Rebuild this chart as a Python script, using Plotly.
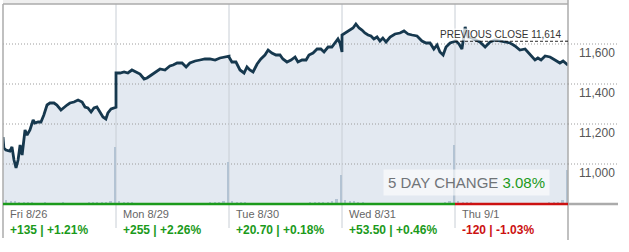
import plotly.graph_objects as go

# ---------------- data ----------------
day_labels = ["Fri 8/26", "Mon 8/29", "Tue 8/30", "Wed 8/31", "Thu 9/1"]
day_changes = ["+135 | +1.21%", "+255 | +2.26%", "+20.70 | +0.18%", "+53.50 | +0.46%", "-120 | -1.03%"]
day_up = [True, True, True, True, False]

session_minutes = 390  # 9:30 -> 16:00

minutes_fri = [0, 3, 10, 24, 31, 38, 45, 52, 59, 66, 76, 83, 93, 104, 110, 121, 131, 141, 152, 162,
               176, 186, 200, 207, 221, 231, 245, 259, 273, 283, 293, 304, 314, 324, 335, 345, 355, 362, 373, 390]
values_fri = [11135, 11080, 11070, 11065, 11085, 11020, 10980, 11020, 11095, 11045, 11170, 11145, 11170, 11220,
              11205, 11210, 11210, 11245, 11295, 11305, 11305, 11295, 11270, 11280, 11295, 11305, 11310, 11320,
              11310, 11285, 11280, 11260, 11280, 11285, 11260, 11235, 11225, 11255, 11275, 11284]

minutes_mon = [0, 14, 28, 41, 55, 69, 83, 97, 107, 117, 135, 152, 169, 186, 197, 211, 228, 242, 255, 273,
               290, 307, 324, 342, 359, 376, 390]
values_mon = [11455, 11455, 11460, 11455, 11470, 11460, 11450, 11425, 11430, 11440, 11460, 11475, 11470, 11490,
              11495, 11505, 11505, 11485, 11505, 11515, 11520, 11525, 11525, 11520, 11530, 11535, 11539]

minutes_tue = [0, 10, 24, 38, 52, 62, 72, 83, 97, 110, 124, 135, 148, 162, 176, 186, 200, 214, 228, 238,
               252, 266, 276, 290, 304, 317, 328, 342, 355, 366, 376, 383, 390]
values_tue = [11535, 11510, 11510, 11470, 11455, 11485, 11470, 11460, 11500, 11525, 11545, 11570, 11555, 11545,
              11545, 11525, 11510, 11520, 11535, 11510, 11520, 11520, 11545, 11555, 11575, 11575, 11560, 11585,
              11585, 11605, 11625, 11605, 11560]

minutes_wed = [0, 17, 28, 38, 48, 59, 69, 79, 90, 100, 110, 121, 131, 141, 152, 166, 183, 200, 214, 228,
               242, 259, 276, 290, 304, 317, 328, 338, 349, 359, 373, 390]
values_wed = [11645, 11660, 11670, 11680, 11700, 11680, 11670, 11655, 11645, 11640, 11625, 11635, 11615, 11630,
              11610, 11635, 11650, 11655, 11665, 11650, 11645, 11640, 11615, 11605, 11605, 11575, 11595, 11560,
              11545, 11585, 11605, 11614]

minutes_thu = [0, 14, 24, 35, 45, 59, 72, 86, 104, 121, 138, 155, 173, 190, 207, 224, 242, 259, 276, 286,
               297, 311, 328, 345, 362, 373, 390]
values_thu = [11620, 11600, 11575, 11685, 11635, 11630, 11620, 11610, 11585, 11610, 11620, 11615, 11610, 11605,
              11590, 11570, 11575, 11545, 11520, 11530, 11520, 11540, 11535, 11520, 11505, 11515, 11494]

# volume per 15-minute bin (millions of shares)
volume_fri = [8, 6, 6, 4, 4, 4, 4, 2, 2, 4, 2, 2, 2, 4, 2, 2, 2, 2, 2, 4, 4, 4, 4, 4, 6, 114]
volume_mon = [6, 4, 4, 4, 2, 2, 2, 2, 2, 2, 2, 2, 2, 2, 2, 2, 2, 2, 2, 2, 2, 4, 4, 4, 6, 84]
volume_tue = [6, 4, 4, 4, 2, 2, 2, 2, 2, 2, 2, 2, 2, 2, 2, 2, 2, 2, 4, 4, 4, 4, 4, 6, 10, 58]
volume_wed = [8, 6, 6, 4, 4, 2, 2, 2, 2, 2, 2, 2, 2, 2, 2, 2, 2, 2, 2, 2, 2, 2, 2, 4, 6, 118]
volume_thu = [6, 4, 4, 4, 2, 2, 2, 2, 2, 2, 2, 2, 2, 2, 2, 2, 2, 2, 2, 2, 2, 4, 4, 4, 8, 68]

prev_close = 11614
five_day_change = "3.08%"
y_ticks = [11000, 11200, 11400, 11600]
y_range = [10800, 11800]
volume_range = [0, 400]

# ---------------- build ----------------
all_minutes = [minutes_fri, minutes_mon, minutes_tue, minutes_wed, minutes_thu]
all_values = [values_fri, values_mon, values_tue, values_wed, values_thu]
all_volume = [volume_fri, volume_mon, volume_tue, volume_wed, volume_thu]
n_days = len(day_labels)
x_max = n_days * session_minutes

px, py = [], []
for d, (mins, vals) in enumerate(zip(all_minutes, all_values)):
    px += [d * session_minutes + m for m in mins]
    py += vals

vx, vy = [], []
for d, vols in enumerate(all_volume):
    for k, v in enumerate(vols):
        vx.append(d * session_minutes + 15 * (k + 1) - 4)
        vy.append(v)

FONT = "Arial, 'Liberation Sans', sans-serif"
GREEN = "#1b9a1b"
RED = "#cc1111"
LINE = "#16384e"
FILL = "#e3e9f1"
SEP = "#c8ced5"
BORDER = "#ababab"

fig = go.Figure()

# area fill
fig.add_trace(go.Scatter(x=px, y=py, mode="lines", line=dict(width=0, color=FILL),
                         fill="tozeroy", fillcolor=FILL, hoverinfo="skip"))
# gridlines (above the fill, below the line)
for t in y_ticks:
    fig.add_trace(go.Scatter(x=[0, x_max], y=[t, t], mode="lines",
                             line=dict(color="#9c9c9c", width=1, dash="1px,2px"), hoverinfo="skip"))
# day separators
for d in range(1, n_days):
    fig.add_trace(go.Scatter(x=[d * session_minutes] * 2, y=y_range, mode="lines",
                             line=dict(color=SEP, width=1), hoverinfo="skip"))
# price line
fig.add_trace(go.Scatter(x=px, y=py, mode="lines", line=dict(color=LINE, width=2.8),
                         hoverinfo="skip"))
# volume bars
fig.add_trace(go.Bar(x=vx, y=vy, width=7, marker=dict(color="#b3c3d3", line=dict(width=0)),
                     yaxis="y2", hoverinfo="skip"))

shapes = []
# top band and borders
shapes.append(dict(type="rect", xref="paper", yref="paper", x0=0, x1=1, y0=1, y1=1.03,
                   fillcolor="#efefef", line=dict(width=0), layer="above"))
shapes.append(dict(type="line", xref="paper", yref="paper", x0=0, x1=1, y0=1, y1=1,
                   line=dict(color=BORDER, width=1.5), layer="above"))
shapes.append(dict(type="line", xref="paper", yref="paper", x0=0, x1=0, y0=-0.17, y1=1,
                   line=dict(color=BORDER, width=1.5), layer="above"))
shapes.append(dict(type="line", xref="paper", yref="paper", x0=1, x1=1, y0=-0.18, y1=1.03,
                   line=dict(color=BORDER, width=1.5), layer="above"))
# separators below plot
for d in range(1, n_days):
    shapes.append(dict(type="line", xref="x", yref="paper", x0=d * session_minutes, x1=d * session_minutes,
                       y0=-0.12, y1=0, line=dict(color=SEP, width=1), layer="above"))
# gridline extensions to the right
for t in y_ticks:
    shapes.append(dict(type="line", xref="paper", yref="y", x0=1, x1=1.0885, y0=t, y1=t,
                       line=dict(color="#9c9c9c", width=1, dash="1px,2px"), layer="above"))
# colored baseline per day
for d in range(n_days):
    shapes.append(dict(type="line", xref="x", yref="paper", x0=d * session_minutes,
                       x1=(d + 1) * session_minutes, y0=0, y1=0,
                       line=dict(color=GREEN if day_up[d] else RED, width=2.6), layer="above"))
shapes.append(dict(type="line", xref="paper", yref="paper", x0=1, x1=1.0885, y0=0, y1=0,
                   line=dict(color=BORDER, width=2.6), layer="above"))
# previous close dashed line
shapes.append(dict(type="line", xref="x", yref="y", x0=(n_days - 1) * session_minutes, x1=x_max,
                   y0=prev_close, y1=prev_close, line=dict(color="#111111", width=1, dash="3px,2px"),
                   layer="above"))

annotations = []
for d in range(n_days):
    annotations.append(dict(xref="x", yref="paper", x=d * session_minutes, y=0, xanchor="left",
                            yanchor="middle", xshift=5, yshift=-10, showarrow=False,
                            text=day_labels[d], font=dict(family=FONT, size=11, color="#666666")))
    annotations.append(dict(xref="x", yref="paper", x=d * session_minutes, y=0, xanchor="left",
                            yanchor="middle", xshift=5, yshift=-26, showarrow=False,
                            text="<b>" + day_changes[d] + "</b>",
                            font=dict(family=FONT, size=12, color=GREEN if day_up[d] else RED)))
annotations.append(dict(xref="paper", yref="y", x=0.9894, y=prev_close, xanchor="right", yanchor="middle",
                        yshift=7, showarrow=False, text="PREVIOUS CLOSE {:,}".format(prev_close),
                        bgcolor="rgba(255,255,255,0.75)", borderpad=0,
                        font=dict(family=FONT, size=10, color="#333333")))
annotations.append(dict(xref="paper", yref="paper", x=0.8195, y=0.1075, xanchor="center", yanchor="middle",
                        showarrow=False, bgcolor="rgba(255,255,255,0.6)", borderpad=4,
                        text="5 DAY CHANGE <span style='color:" + GREEN + "'>" + five_day_change + "</span>",
                        font=dict(family=FONT, size=15, color="#707478")))

fig.update_layout(
    width=629, height=252,
    margin=dict(l=3, r=61, t=4, b=48),
    paper_bgcolor="white", plot_bgcolor="white",
    showlegend=False, bargap=0,
    font=dict(family=FONT),
    xaxis=dict(range=[0, x_max], showgrid=False, zeroline=False, showticklabels=False,
               showline=False, ticks="", fixedrange=True),
    yaxis=dict(range=y_range, side="right", tickvals=y_ticks, tickformat=",d", showgrid=False,
               zeroline=False, showline=False, ticks="", ticklabelposition="outside bottom",
               ticklabelstandoff=10, automargin=False,
               tickfont=dict(family=FONT, size=12, color="#555555")),
    yaxis2=dict(range=volume_range, overlaying="y", visible=False, fixedrange=True),
    shapes=shapes,
    annotations=annotations,
)

fig.write_html("out.html")
